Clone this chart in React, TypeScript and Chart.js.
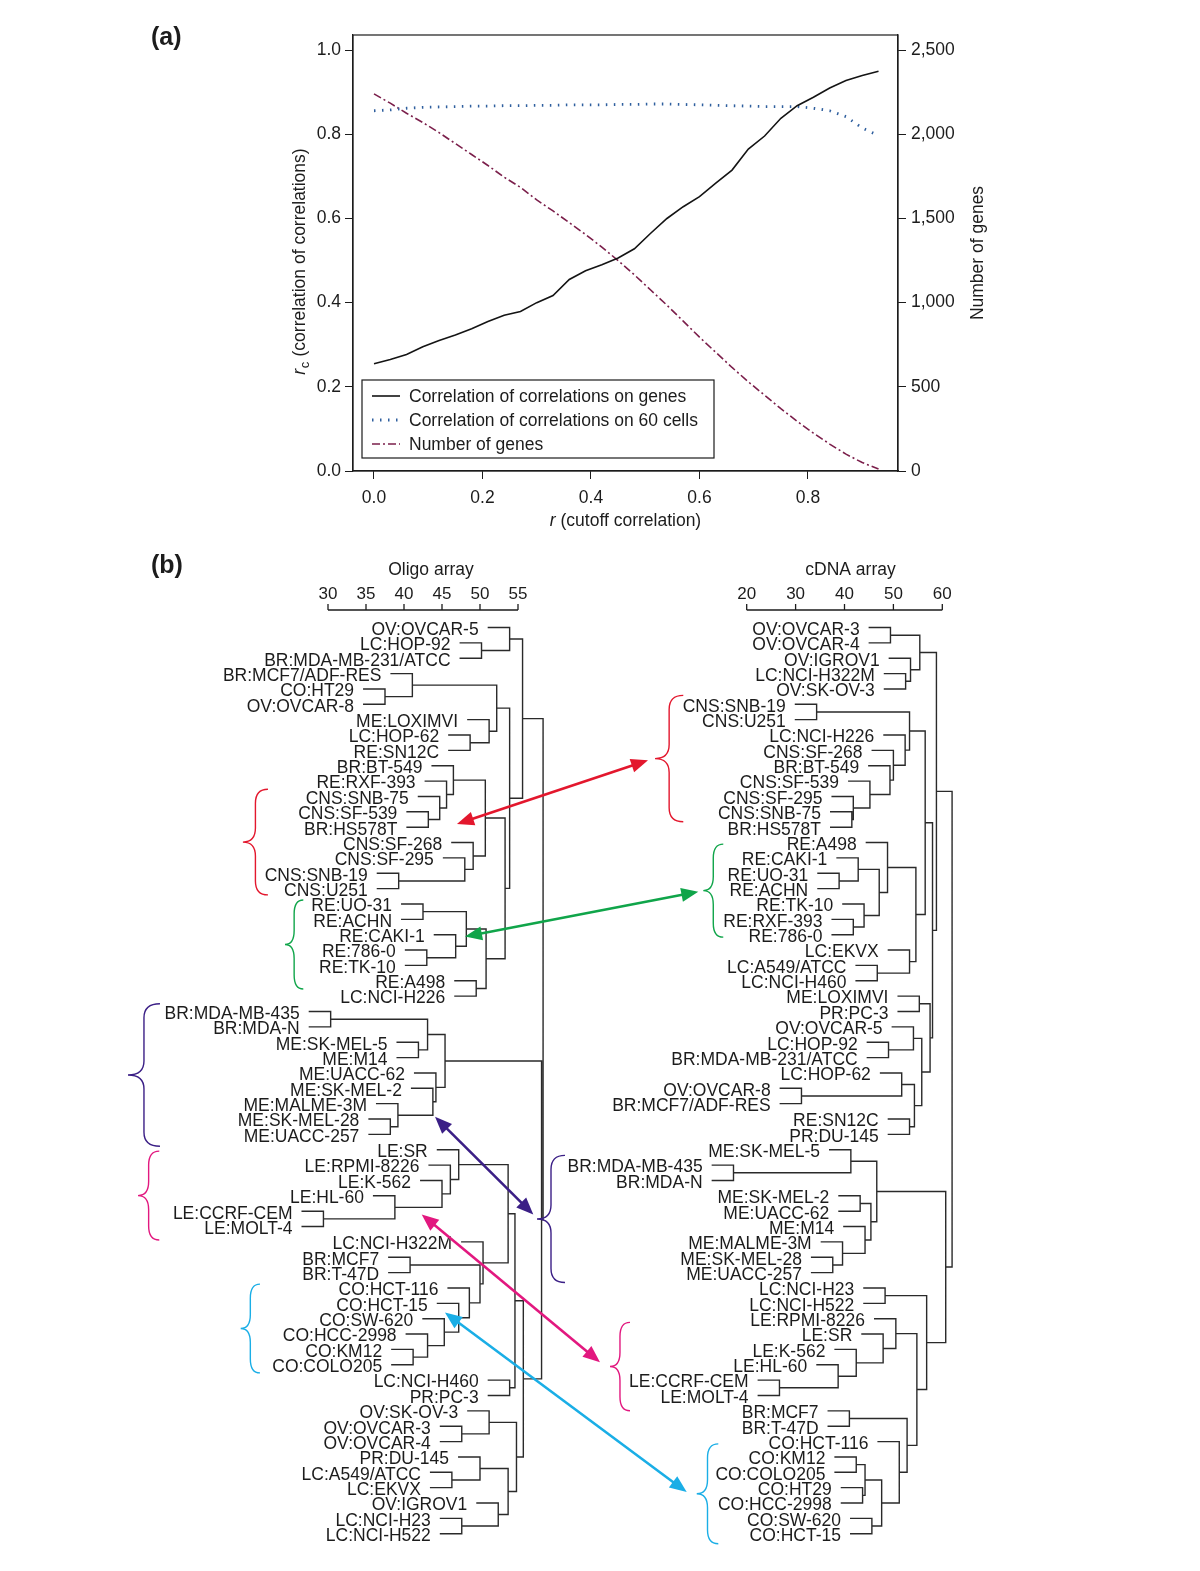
import React, { useEffect, useRef } from 'react';
import { Chart, registerables } from 'chart.js';
Chart.register(...registerables);

// ---------------- Panel (a) data ----------------
const cutoffR = [0, 0.03, 0.06, 0.09, 0.12, 0.15, 0.18, 0.21, 0.24, 0.27, 0.3, 0.33, 0.36, 0.39, 0.42, 0.45, 0.48, 0.51, 0.54, 0.57, 0.6, 0.63, 0.66, 0.69, 0.72, 0.75, 0.78, 0.81, 0.84, 0.87, 0.9, 0.93];
const corrGenes = [0.255, 0.265, 0.277, 0.295, 0.31, 0.323, 0.338, 0.355, 0.37, 0.379, 0.4, 0.417, 0.455, 0.476, 0.49, 0.506, 0.528, 0.565, 0.6, 0.628, 0.652, 0.684, 0.715, 0.765, 0.796, 0.838, 0.868, 0.888, 0.91, 0.928, 0.94, 0.95];
const corrCells = [0.856, 0.858, 0.862, 0.864, 0.865, 0.866, 0.867, 0.867, 0.868, 0.868, 0.869, 0.869, 0.87, 0.87, 0.87, 0.871, 0.871, 0.872, 0.872, 0.871, 0.87, 0.869, 0.868, 0.867, 0.866, 0.866, 0.866, 0.862, 0.856, 0.842, 0.815, 0.797];
const numGenes = [2240, 2185, 2125, 2070, 2010, 1945, 1880, 1815, 1745, 1685, 1610, 1545, 1475, 1405, 1330, 1250, 1165, 1075, 985, 890, 795, 705, 615, 530, 450, 370, 295, 225, 160, 100, 50, 12];
const xTicksA = [0, 0.2, 0.4, 0.6, 0.8];
const yTicksA = [0, 0.2, 0.4, 0.6, 0.8, 1.0];
const y2TicksA = [0, 500, 1000, 1500, 2000, 2500];
const legendLabels = ['Correlation of correlations on genes', 'Correlation of correlations on 60 cells', 'Number of genes'];

// ---------------- Panel (b) data ----------------
const oligoLeaves = ['OV:OVCAR-5', 'LC:HOP-92', 'BR:MDA-MB-231/ATCC', 'BR:MCF7/ADF-RES', 'CO:HT29', 'OV:OVCAR-8', 'ME:LOXIMVI', 'LC:HOP-62', 'RE:SN12C', 'BR:BT-549',
  'RE:RXF-393', 'CNS:SNB-75', 'CNS:SF-539', 'BR:HS578T', 'CNS:SF-268', 'CNS:SF-295', 'CNS:SNB-19', 'CNS:U251', 'RE:UO-31', 'RE:ACHN',
  'RE:CAKI-1', 'RE:786-0', 'RE:TK-10', 'RE:A498', 'LC:NCI-H226', 'BR:MDA-MB-435', 'BR:MDA-N', 'ME:SK-MEL-5', 'ME:M14', 'ME:UACC-62',
  'ME:SK-MEL-2', 'ME:MALME-3M', 'ME:SK-MEL-28', 'ME:UACC-257', 'LE:SR', 'LE:RPMI-8226', 'LE:K-562', 'LE:HL-60', 'LE:CCRF-CEM', 'LE:MOLT-4',
  'LC:NCI-H322M', 'BR:MCF7', 'BR:T-47D', 'CO:HCT-116', 'CO:HCT-15', 'CO:SW-620', 'CO:HCC-2998', 'CO:KM12', 'CO:COLO205', 'LC:NCI-H460',
  'PR:PC-3', 'OV:SK-OV-3', 'OV:OVCAR-3', 'OV:OVCAR-4', 'PR:DU-145', 'LC:A549/ATCC', 'LC:EKVX', 'OV:IGROV1', 'LC:NCI-H23', 'LC:NCI-H522'];
// hclust-style merges: negative = leaf (display row), positive = earlier merge; third = height
const oligoMerges = [
  [-2, -3, 50.2], [-1, 1, 53.9], [-5, -6, 37.5], [-4, 3, 41.1], [-8, -9, 48.7], [-7, 5, 51.2], [4, 6, 52.2],
  [-13, -14, 43.2], [-12, 8, 44.7], [-11, 9, 45.6], [-10, 10, 46.5], [-17, -18, 39.3], [-16, 12, 48.0], [-15, 13, 49.1], [11, 14, 50.7],
  [-19, -20, 42.5], [-22, -23, 43.0], [-21, 17, 46.8], [16, 18, 48.2], [-24, -25, 49.5], [19, 20, 50.8], [15, 21, 53.3], [7, 22, 53.9], [2, 23, 55.6],
  [-26, -27, 30.35], [-28, -29, 41.9], [25, 26, 43.1], [-33, -34, 38.2], [-32, 28, 39.2], [-31, 29, 43.8], [-30, 30, 44.2], [27, 31, 45.4],
  [-39, -40, 29.4], [-38, 33, 38.8], [-37, 34, 45.0], [-36, 35, 46.1], [-35, 36, 47.2],
  [-42, -43, 40.8], [-48, -49, 41.2], [-47, 39, 43.1], [-46, 40, 45.3], [-45, 41, 47.2], [-44, 42, 48.6], [38, 43, 50.0], [-41, 44, 50.4],
  [37, 45, 53.7], [-50, -51, 53.9], [46, 47, 54.6],
  [-53, -54, 47.6], [-52, 49, 51.2], [-56, -57, 46.3], [-55, 51, 50.0], [-59, -60, 47.6], [-58, 53, 52.4], [52, 54, 53.7], [50, 55, 54.8],
  [48, 56, 55.7], [32, 57, 58.1], [24, 58, 58.3],
];
const cdnaLeaves = ['OV:OVCAR-3', 'OV:OVCAR-4', 'OV:IGROV1', 'LC:NCI-H322M', 'OV:SK-OV-3', 'CNS:SNB-19', 'CNS:U251', 'LC:NCI-H226', 'CNS:SF-268', 'BR:BT-549',
  'CNS:SF-539', 'CNS:SF-295', 'CNS:SNB-75', 'BR:HS578T', 'RE:A498', 'RE:CAKI-1', 'RE:UO-31', 'RE:ACHN', 'RE:TK-10', 'RE:RXF-393',
  'RE:786-0', 'LC:EKVX', 'LC:A549/ATCC', 'LC:NCI-H460', 'ME:LOXIMVI', 'PR:PC-3', 'OV:OVCAR-5', 'LC:HOP-92', 'BR:MDA-MB-231/ATCC', 'LC:HOP-62',
  'OV:OVCAR-8', 'BR:MCF7/ADF-RES', 'RE:SN12C', 'PR:DU-145', 'ME:SK-MEL-5', 'BR:MDA-MB-435', 'BR:MDA-N', 'ME:SK-MEL-2', 'ME:UACC-62', 'ME:M14',
  'ME:MALME-3M', 'ME:SK-MEL-28', 'ME:UACC-257', 'LC:NCI-H23', 'LC:NCI-H522', 'LE:RPMI-8226', 'LE:SR', 'LE:K-562', 'LE:HL-60', 'LE:CCRF-CEM',
  'LE:MOLT-4', 'BR:MCF7', 'BR:T-47D', 'CO:HCT-116', 'CO:KM12', 'CO:COLO205', 'CO:HT29', 'CO:HCC-2998', 'CO:SW-620', 'CO:HCT-15'];
const cdnaMerges = [
  [-1, -2, 49.4], [-4, -5, 52.5], [-3, 2, 53.5], [1, 3, 55.4],
  [-6, -7, 34.3], [-13, -14, 41.5], [-12, 6, 41.8], [-11, 7, 45.2], [-10, 8, 49.3], [-9, 9, 50.0], [-8, 10, 52.4], [5, 11, 53.3],
  [-17, -18, 38.9], [-16, 13, 42.8], [-20, -21, 41.8], [-19, 15, 44.0], [14, 16, 47.1], [-15, 17, 48.8], [-23, -24, 46.7], [-22, 19, 53.3],
  [18, 20, 54.6], [12, 21, 56.5],
  [-25, -26, 55.3], [-28, -29, 49.0], [-27, 24, 54.1], [-31, -32, 31.2], [-30, 26, 51.7], [-33, -34, 53.3], [27, 28, 54.3], [25, 29, 55.8],
  [23, 30, 57.5], [22, 31, 58.0], [4, 32, 58.8],
  [-36, -37, 17.3], [-35, 34, 41.3], [-38, -39, 43.2], [-42, -43, 37.6], [-41, 37, 39.6], [-40, 38, 44.2], [36, 39, 45.4], [35, 40, 46.6],
  [-44, -45, 48.3], [-50, -51, 26.7], [-49, 43, 38.7], [-48, 44, 42.4], [-47, 45, 47.9], [-46, 46, 50.5],
  [-52, -53, 41.0], [-55, -56, 42.4], [-57, -58, 43.7], [49, 50, 44.2], [-59, -60, 45.6], [51, 52, 47.6], [-54, 53, 51.2], [48, 54, 52.8],
  [47, 55, 54.8], [42, 56, 56.8], [41, 57, 60.7], [33, 58, 62.0],
];
const oligoTicks = [30, 35, 40, 45, 50, 55];
const cdnaTicks = [20, 30, 40, 50, 60];

// group annotations: braces (rows and axis values) and double-headed arrows
const groupColors = ['#e3172d', '#10a54a', '#3b1f86', '#e2187f', '#1aaee6'];
const leftBraces = [[11.53, 18.41, 22.1, 18.8], [18.74, 24.54, 26.75, 24.34], [25.5, 34.77, 7.89, 3.68], [35.09, 40.88, 7.8, 5.0], [43.75, 49.53, 21.05, 18.51]];
const rightBraces = [[5.42, 13.65, 7.03, 1.25], [15.1, 21.16, 15.21, 11.12], [35.37, 43.64, -17.16, -22.88], [46.24, 51.99, -3.87, -7.96], [54.15, 60.65, 14.19, 9.78]];
const arrowLeftEnds = [[46.97, 13.79], [48.03, 21.12], [44.08, 32.86], [42.33, 39.21], [45.39, 45.6]];
const arrowRightEnds = [[-0.18, 9.64], [10.1, 18.2], [-23.64, 39.21], [-10.0, 48.84], [7.73, 57.29]];

// ---------------- layout ----------------
const FONT = "'Liberation Sans', Arial, Helvetica, sans-serif";
const INK = '#1c1c1c';
const W = 1200;
const HA = 540;
const HB = 1031;
// panel (b) scale placement
const OLIGO_PX0 = 328, OLIGO_PPU = 7.6; // px of value 30, px per unit
const CDNA_PX0 = 746.7, CDNA_PPU = 4.89; // px of value 20
const ROW1_Y = 87.5, ROW_PX = 15.36;

function buildTree(merges) {
  const hs = merges.map((m) => m[2]);
  const hang = 0.1 * (Math.max(...hs) - Math.min(...hs));
  const nodeY = [];
  const segs = [];
  const leafStart = {};
  merges.forEach(([a, b, h], i) => {
    const child = (c) => {
      if (c < 0) {
        leafStart[-c] = h - hang;
        return { x: h - hang, y: -c };
      }
      return { x: merges[c - 1][2], y: nodeY[c - 1] };
    };
    const A = child(a);
    const B = child(b);
    nodeY[i] = (A.y + B.y) / 2;
    segs.push({ x: A.x, y: A.y }, { x: h, y: A.y }, { x: h, y: B.y }, { x: B.x, y: B.y }, { x: NaN, y: NaN });
  });
  return { segs, leafStart };
}

function drawBrace(ctx, hookX, tipX, yTop, yBot) {
  const spine = hookX - (hookX - tipX) * 0.5;
  const mid = (yTop + yBot) / 2;
  const r = Math.min(14, (yBot - yTop) / 4);
  ctx.beginPath();
  ctx.moveTo(hookX, yTop);
  ctx.quadraticCurveTo(spine, yTop, spine, yTop + r);
  ctx.lineTo(spine, mid - r);
  ctx.quadraticCurveTo(spine, mid, tipX, mid);
  ctx.quadraticCurveTo(spine, mid, spine, mid + r);
  ctx.lineTo(spine, yBot - r);
  ctx.quadraticCurveTo(spine, yBot, hookX, yBot);
  ctx.stroke();
}

function drawDoubleArrow(ctx, x1, y1, x2, y2) {
  const ang = Math.atan2(y2 - y1, x2 - x1);
  const len = 17, hw = 7;
  const c = Math.cos(ang), s = Math.sin(ang);
  ctx.beginPath();
  ctx.moveTo(x1 + c * (len - 2), y1 + s * (len - 2));
  ctx.lineTo(x2 - c * (len - 2), y2 - s * (len - 2));
  ctx.stroke();
  const head = (x, y, dc, ds) => {
    ctx.beginPath();
    ctx.moveTo(x, y);
    ctx.lineTo(x - dc * len - ds * hw, y - ds * len + dc * hw);
    ctx.lineTo(x - dc * len + ds * hw, y - ds * len - dc * hw);
    ctx.closePath();
    ctx.fill();
  };
  head(x2, y2, c, s);
  head(x1, y1, -c, -s);
}

const panelAPlugin = {
  id: 'panelA',
  afterDraw(chart) {
    const { ctx, chartArea: ca } = chart;
    ctx.save();
    ctx.strokeStyle = INK;
    ctx.lineWidth = 1.2;
    ctx.strokeRect(ca.left, ca.top, ca.right - ca.left, ca.bottom - ca.top);
    ctx.fillStyle = INK;
    ctx.font = `bold 25px ${FONT}`;
    ctx.textAlign = 'left';
    ctx.textBaseline = 'middle';
    ctx.fillText('(a)', 151, 38);

    // x title
    const fs = 17.5;
    const it = `italic ${fs}px ${FONT}`;
    const nf = `${fs}px ${FONT}`;
    ctx.font = it;
    const wr = ctx.measureText('r').width;
    ctx.font = nf;
    const rest = ' (cutoff correlation)';
    const wrest = ctx.measureText(rest).width;
    let x0 = (ca.left + ca.right) / 2 - (wr + wrest) / 2;
    ctx.font = it;
    ctx.fillText('r', x0, 521);
    ctx.font = nf;
    ctx.fillText(rest, x0 + wr, 521);

    // left title (rotated)
    ctx.save();
    ctx.translate(300, (ca.top + ca.bottom) / 2 + 9);
    ctx.rotate(-Math.PI / 2);
    ctx.font = it;
    const w1 = ctx.measureText('r').width;
    ctx.font = `13px ${FONT}`;
    const w2 = ctx.measureText('c').width;
    ctx.font = nf;
    const t3 = ' (correlation of correlations)';
    const w3 = ctx.measureText(t3).width;
    let sx = -(w1 + w2 + w3) / 2;
    ctx.font = it;
    ctx.fillText('r', sx, 0);
    ctx.font = `13px ${FONT}`;
    ctx.fillText('c', sx + w1 + 0.5, 5);
    ctx.font = nf;
    ctx.fillText(t3, sx + w1 + w2 + 1, 0);
    ctx.restore();

    // right title
    ctx.save();
    ctx.translate(978, (ca.top + ca.bottom) / 2);
    ctx.rotate(-Math.PI / 2);
    ctx.font = nf;
    ctx.textAlign = 'center';
    ctx.fillText('Number of genes', 0, 0);
    ctx.restore();

    // legend
    const bx = 362, by = 380, bw = 352, bh = 78;
    ctx.fillStyle = '#ffffff';
    ctx.fillRect(bx, by, bw, bh);
    ctx.strokeStyle = INK;
    ctx.lineWidth = 1.2;
    ctx.strokeRect(bx, by, bw, bh);
    chart.data.datasets.forEach((ds, i) => {
      const yy = by + 16 + i * 24;
      ctx.save();
      ctx.strokeStyle = ds.borderColor;
      ctx.lineWidth = ds.borderWidth;
      ctx.setLineDash(ds.borderDash || []);
      ctx.beginPath();
      ctx.moveTo(bx + 10, yy);
      ctx.lineTo(bx + 38, yy);
      ctx.stroke();
      ctx.restore();
      ctx.fillStyle = INK;
      ctx.font = nf;
      ctx.textAlign = 'left';
      ctx.fillText(legendLabels[i], bx + 47, yy + 1);
    });
    ctx.restore();
  },
};

const oligoTree = buildTree(oligoMerges);
const cdnaTree = buildTree(cdnaMerges);

const panelBPlugin = {
  id: 'panelB',
  afterDraw(chart) {
    const { ctx, scales } = chart;
    const xL = scales.xL, xR = scales.xR, y = scales.y;
    ctx.save();
    ctx.fillStyle = INK;
    ctx.font = `bold 25px ${FONT}`;
    ctx.textAlign = 'left';
    ctx.textBaseline = 'middle';
    ctx.fillText('(b)', 151, 26);

    // small axes on top
    const axes = [
      { sc: xL, ticks: oligoTicks, title: 'Oligo array', shift: 8 },
      { sc: xR, ticks: cdnaTicks, title: 'cDNA array', shift: 6 },
    ];
    axes.forEach(({ sc, ticks, title, shift }) => {
      const barY = 70;
      const a = sc.getPixelForValue(ticks[0]);
      const b = sc.getPixelForValue(ticks[ticks.length - 1]);
      ctx.strokeStyle = INK;
      ctx.lineWidth = 1.3;
      ctx.beginPath();
      ctx.moveTo(a, barY);
      ctx.lineTo(b, barY);
      ticks.forEach((t) => {
        const px = sc.getPixelForValue(t);
        ctx.moveTo(px, barY);
        ctx.lineTo(px, barY - 6);
      });
      ctx.stroke();
      ctx.font = `17px ${FONT}`;
      ctx.textAlign = 'center';
      ticks.forEach((t) => ctx.fillText(String(t), sc.getPixelForValue(t), 54));
      ctx.font = `17.5px ${FONT}`;
      ctx.fillText(title, (a + b) / 2 + shift, 30);
    });

    // leaf labels
    ctx.font = `17.5px ${FONT}`;
    ctx.textAlign = 'right';
    ctx.fillStyle = INK;
    oligoLeaves.forEach((name, i) => {
      ctx.fillText(name, xL.getPixelForValue(oligoTree.leafStart[i + 1]) - 9, y.getPixelForValue(i + 1) + 2.5);
    });
    cdnaLeaves.forEach((name, i) => {
      ctx.fillText(name, xR.getPixelForValue(cdnaTree.leafStart[i + 1]) - 9, y.getPixelForValue(i + 1) + 2.5);
    });

    // braces
    ctx.lineWidth = 1.4;
    leftBraces.forEach(([r0, r1, hook, tip], i) => {
      ctx.strokeStyle = groupColors[i];
      drawBrace(ctx, xL.getPixelForValue(hook), xL.getPixelForValue(tip), y.getPixelForValue(r0), y.getPixelForValue(r1));
    });
    rightBraces.forEach(([r0, r1, hook, tip], i) => {
      ctx.strokeStyle = groupColors[i];
      drawBrace(ctx, xR.getPixelForValue(hook), xR.getPixelForValue(tip), y.getPixelForValue(r0), y.getPixelForValue(r1));
    });
    // arrows
    ctx.lineWidth = 2.6;
    arrowLeftEnds.forEach(([lv, lr], i) => {
      const [rv, rr] = arrowRightEnds[i];
      ctx.strokeStyle = groupColors[i];
      ctx.fillStyle = groupColors[i];
      drawDoubleArrow(ctx, xL.getPixelForValue(lv), y.getPixelForValue(lr), xR.getPixelForValue(rv), y.getPixelForValue(rr));
    });
    ctx.restore();
  },
};

export default function App() {
  const refA = useRef(null);
  const refB = useRef(null);

  useEffect(() => {
    const tickFont = { family: FONT, size: 17.5 };
    const chartA = new Chart(refA.current, {
      type: 'line',
      data: {
        datasets: [
          {
            label: legendLabels[0],
            data: cutoffR.map((x, i) => ({ x, y: corrGenes[i] })),
            borderColor: '#141414', borderWidth: 1.6, pointRadius: 0, tension: 0, yAxisID: 'y',
          },
          {
            label: legendLabels[1],
            data: cutoffR.map((x, i) => ({ x, y: corrCells[i] })),
            borderColor: '#2f5f9e', borderWidth: 2.8, borderDash: [1.5, 6.5], borderCapStyle: 'butt', pointRadius: 0, tension: 0, yAxisID: 'y',
          },
          {
            label: legendLabels[2],
            data: cutoffR.map((x, i) => ({ x, y: numGenes[i] })),
            borderColor: '#7b1f4b', borderWidth: 1.6, borderDash: [8, 3, 2, 3], pointRadius: 0, tension: 0, yAxisID: 'y2',
          },
        ],
      },
      options: {
        responsive: false,
        animation: false,
        devicePixelRatio: 1,
        layout: { padding: { top: 35, left: 0, right: 0, bottom: 0 } },
        plugins: { legend: { display: false }, tooltip: { enabled: false }, title: { display: false } },
        events: [],
        scales: {
          x: {
            type: 'linear', min: -0.0387, max: 0.9659,
            afterBuildTicks: (s) => { s.ticks = xTicksA.map((v) => ({ value: v })); },
            afterFit: (s) => { s.height = 69; },
            ticks: { callback: (v) => Number(v).toFixed(1), font: tickFont, color: INK, padding: 9, maxRotation: 0 },
            grid: { drawOnChartArea: false, drawTicks: true, tickLength: 8, color: INK },
            border: { color: INK, width: 1.2 },
          },
          y: {
            type: 'linear', position: 'left', min: 0, max: 1.036,
            afterBuildTicks: (s) => { s.ticks = yTicksA.map((v) => ({ value: v })); },
            afterFit: (s) => { s.width = 353; },
            ticks: { callback: (v) => Number(v).toFixed(1), font: tickFont, color: INK, padding: 4 },
            grid: { drawOnChartArea: false, drawTicks: true, tickLength: 8, color: INK },
            border: { color: INK, width: 1.2 },
          },
          y2: {
            type: 'linear', position: 'right', min: 0, max: 2590,
            afterBuildTicks: (s) => { s.ticks = y2TicksA.map((v) => ({ value: v })); },
            afterFit: (s) => { s.width = W - 898; },
            ticks: { callback: (v) => Number(v).toLocaleString('en-US'), font: tickFont, color: INK, padding: 5 },
            grid: { drawOnChartArea: false, drawTicks: true, tickLength: 8, color: INK },
            border: { color: INK, width: 1.2 },
          },
        },
      },
      plugins: [panelAPlugin],
    });

    const xLmin = 30 - OLIGO_PX0 / OLIGO_PPU;
    const xRmin = 20 - CDNA_PX0 / CDNA_PPU;
    const yMin = 1 - ROW1_Y / ROW_PX;
    const chartB = new Chart(refB.current, {
      type: 'scatter',
      data: {
        datasets: [
          {
            label: 'Oligo array', data: oligoTree.segs, xAxisID: 'xL', yAxisID: 'y', showLine: true, spanGaps: false,
            borderColor: '#2a2a2a', borderWidth: 1.4, pointRadius: 0, tension: 0,
          },
          {
            label: 'cDNA array', data: cdnaTree.segs, xAxisID: 'xR', yAxisID: 'y', showLine: true, spanGaps: false,
            borderColor: '#2a2a2a', borderWidth: 1.4, pointRadius: 0, tension: 0,
          },
        ],
      },
      options: {
        responsive: false,
        animation: false,
        devicePixelRatio: 1,
        layout: { padding: 0 },
        plugins: { legend: { display: false }, tooltip: { enabled: false } },
        events: [],
        scales: {
          xL: { type: 'linear', display: false, min: xLmin, max: xLmin + W / OLIGO_PPU },
          xR: { type: 'linear', display: false, min: xRmin, max: xRmin + W / CDNA_PPU },
          y: { type: 'linear', display: false, reverse: true, min: yMin, max: yMin + HB / ROW_PX },
        },
      },
      plugins: [panelBPlugin],
    });

    return () => {
      chartA.destroy();
      chartB.destroy();
    };
  }, []);

  return (
    <div style={{ position: 'absolute', left: 0, top: 0, width: W, height: HA + HB, background: '#fff' }}>
      <canvas ref={refA} width={W} height={HA} style={{ position: 'absolute', left: 0, top: 0, display: 'block' }} />
      <canvas ref={refB} width={W} height={HB} style={{ position: 'absolute', left: 0, top: HA, display: 'block' }} />
    </div>
  );
}
